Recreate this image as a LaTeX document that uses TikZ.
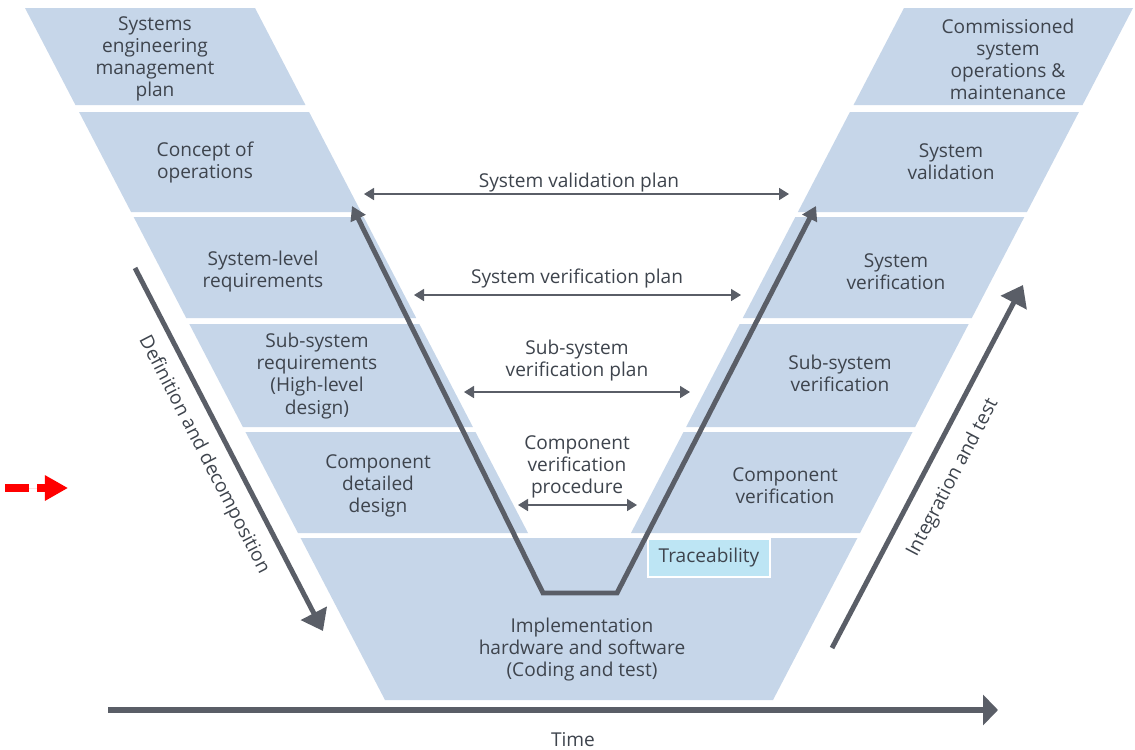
\documentclass[tikz,border=0pt]{standalone}
\usepackage{fontspec}
\setmainfont{Open Sans}
\usetikzlibrary{arrows.meta}

\definecolor{bandblue}{HTML}{C6D6E9}
\definecolor{tracecyan}{HTML}{BDE5F4}
\definecolor{linegray}{HTML}{5A5E67}
\definecolor{textgray}{HTML}{3E444D}

\tikzset{row_text/.style={align=center, text=textgray, inner sep=0pt, font=\fontsize{16.3}{18.8}\selectfont}}
\tikzset{plan_arrow/.style={{Triangle[length=0.3cm,width=0.36cm]}-{Triangle[length=0.3cm,width=0.36cm]}, draw=linegray, line width=1.4pt}}
\tikzset{big_arrow/.style={-{Triangle[length=0.6cm,width=0.85cm]}, draw=linegray, line width=4.2pt}}
\tikzset{trace_box/.style={fill=tracecyan, draw=white, line width=1.5pt, minimum width=3.66cm, minimum height=1.14cm, text=textgray, font=\fontsize{16.3}{18.8}\selectfont}}

\begin{document}
\begin{tikzpicture}[x=0.03cm, y=-0.03cm]
    \fill[white] (0,0) rectangle (1135,750);
    \useasboundingbox (0,0) rectangle (1135,750);

    % left and right bands of the V
    \foreach \t/\b in {8/105, 112/212, 217/318, 324/427, 432/533}{
        \fill[bandblue] ({25+0.52*(\t-8)},\t) -- ({255+0.52*(\t-8)},\t) -- ({255+0.52*(\b-8)},\b) -- ({25+0.52*(\b-8)},\b) -- cycle;
        \fill[bandblue] ({1133-0.52*(\t-8)},\t) -- ({904-0.52*(\t-8)},\t) -- ({904-0.52*(\b-8)},\b) -- ({1133-0.52*(\b-8)},\b) -- cycle;
    }
    \fill[bandblue] (300.6,538) -- (385,700) -- (773,700) -- (857.4,538) -- cycle;

    % left side
    \node[row_text] (semp) at (155,59) {Systems\\engineering\\management\\plan};
    \node[row_text] (conops) at (205,162) {Concept of\\operations};
    \node[row_text] (sysreq) at (263,272) {System-level\\requirements};
    \node[row_text] (subreq) at (317,376) {Sub-system\\requirements\\(High-level\\design)};
    \node[row_text] (compdes) at (378,486) {Component\\detailed\\design};

    % right side
    \node[row_text] (comm) at (1008,59) {Commissioned\\system\\operations \&\\maintenance};
    \node[row_text] (sysval) at (951,162) {System\\validation};
    \node[row_text] (sysver) at (896,272) {System\\verification};
    \node[row_text] (subver) at (840,373) {Sub-system\\verification};
    \node[row_text] (compver) at (785,486) {Component\\verification};

    % bottom
    \node[row_text] (impl) at (582,650) {Implementation\\hardware and software\\(Coding and test)};
    \node[trace_box] (trace) at (709,558) {Traceability};

    % plans across the V
    \node[row_text] (valplan) at (579,183) {System validation plan};
    \node[row_text] (verplan) at (577,278) {System verification plan};
    \node[row_text] (subplan) at (577,361) {Sub-system\\verification plan};
    \node[row_text] (compproc) at (577,467) {Component\\verification\\procedure};

    \coordinate (valL) at (364,194);
    \coordinate (valR) at (789,194);
    \coordinate (verL) at (414,295);
    \coordinate (verR) at (741,295);
    \coordinate (subL) at (464,392);
    \coordinate (subR) at (690,392);
    \coordinate (compL) at (518,505);
    \coordinate (compR) at (637,505);

    \draw[plan_arrow] (valL) -- (valR);
    \draw[plan_arrow] (verL) -- (verR);
    \draw[plan_arrow] (subL) -- (subR);
    \draw[plan_arrow] (compL) -- (compR);

    % the V path
    \coordinate (vtopL) at (352,206);
    \coordinate (vbotL) at (543,593);
    \coordinate (vbotR) at (617,593);
    \coordinate (vtopR) at (816,206);
    \draw[{Triangle[length=0.42cm,width=0.48cm]}-{Triangle[length=0.42cm,width=0.48cm]}, draw=linegray, line width=4.2pt, line join=miter] (vtopL) -- (vbotL) -- (vbotR) -- (vtopR);

    % side arrows
    \coordinate (defS) at (135,268);
    \coordinate (defE) at (323,631);
    \draw[big_arrow] (defS) -- (defE);
    \node[row_text, rotate=-62.7] (deflabel) at (204,455) {Definition and decomposition};

    \coordinate (intS) at (832,648);
    \coordinate (intE) at (1023,285);
    \draw[big_arrow] (intS) -- (intE);
    \node[row_text, rotate=62.3] (intlabel) at (953,478) {Integration and test};

    % time axis
    \coordinate (timeS) at (108,710);
    \coordinate (timeE) at (998,710);
    \draw[-{Triangle[length=0.45cm,width=0.9cm]}, draw=linegray, line width=5pt] (timeS) -- (timeE);
    \node[row_text] (time) at (573,740) {Time};

    % marker
    \coordinate (markS) at (5,488);
    \coordinate (markE) at (68,488);
    \draw[-{Triangle[length=0.69cm,width=0.72cm]}, draw=red, fill=red, line width=6pt, dash pattern=on 0.72cm off 0.24cm] (markS) -- (markE);
\end{tikzpicture}
\end{document}
